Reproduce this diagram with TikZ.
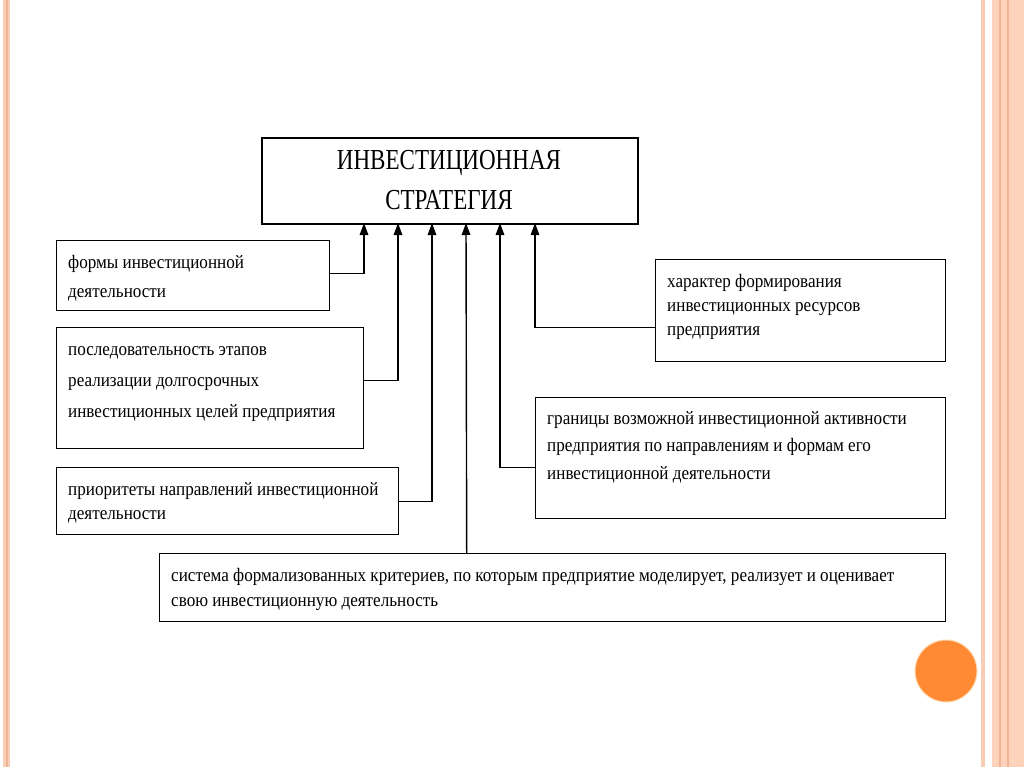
\documentclass[tikz,border=0pt]{standalone}
\usepackage{fontspec}
\setmainfont{Liberation Serif}[FakeStretch=0.9]
\newfontfamily\titlefont{Liberation Serif}[FakeStretch=0.795]
\usetikzlibrary{arrows.meta}
\definecolor{stripeA}{HTML}{F7CDB6}
\definecolor{stripeB}{HTML}{F0B394}
\definecolor{bandC}{HTML}{FDD2BA}
\definecolor{orangeC}{HTML}{FF8A33}
\tikzset{
  box/.style={draw=black, line width=1.4pt, inner sep=0pt, anchor=north west},
  txt/.style={inner sep=0pt, anchor=base west, align=left, font=\fontsize{19}{29}\selectfont},
  arr/.style={line width=1.4pt, -{Triangle[length=12pt,width=8.5pt]}}
}
\begin{document}
\begin{tikzpicture}[x=1pt,y=-1pt]
\fill[white] (0,0) rectangle (1024,767);
\useasboundingbox (0,0) rectangle (1024,767);
% decorative stripes
\fill[stripeA] (3,0) rectangle (10,767);
\fill[stripeB] (6,0) rectangle (7.5,767);
\fill[stripeA] (981,0) rectangle (985,767);
\fill[bandC] (992,0) rectangle (1024,767);
\fill[stripeB] (999,0) rectangle (1001,767);
\fill[stripeB] (1007,0) rectangle (1008.5,767);
% circle
\fill[orangeC, draw=orange!30, line width=1pt] (946,671) circle[radius=31pt];
% main box
\node[box, line width=1.6pt, minimum width=376pt, minimum height=86pt] (main) at (261,137) {};
\node[inner sep=0pt, anchor=base, font=\titlefont\fontsize{29}{40}\selectfont] (tt1) at (449,170) {ИНВЕСТИЦИОННАЯ};
\node[inner sep=0pt, anchor=base, font=\titlefont\fontsize{29}{40}\selectfont] (tt2) at (449,210) {СТРАТЕГИЯ};
% boxes
\node[box, minimum width=273pt, minimum height=70pt] (b1) at (56,240) {};
\node[box, minimum width=307pt, minimum height=121pt] (b2) at (56,327) {};
\node[box, minimum width=342pt, minimum height=67pt] (b3) at (56,467) {};
\node[box, minimum width=290pt, minimum height=102pt] (b4) at (655,259) {};
\node[box, minimum width=410pt, minimum height=121pt] (b5) at (535,397) {};
\node[box, minimum width=786pt, minimum height=68pt] (b6) at (159,553) {};
% texts (anchor = baseline of the last line)
\node[txt] (x1) at (68,297) {формы инвестиционной\\деятельности};
\node[txt, font=\fontsize{19}{31}\selectfont] (x2) at (68,417) {последовательность этапов\\реализации долгосрочных\\инвестиционных целей предприятия};
\node[txt, font=\fontsize{19}{24}\selectfont] (x3) at (68,519) {приоритеты направлений инвестиционной\\деятельности};
\node[txt, font=\fontsize{19}{24}\selectfont] (x4) at (667,335) {характер формирования\\инвестиционных ресурсов\\предприятия};
\node[txt, font=\fontsize{19}{27.5}\selectfont] (x5) at (547,479) {границы возможной инвестиционной активности\\предприятия по направлениям и формам его\\инвестиционной деятельности};
\node[txt, font=\fontsize{19}{25}\selectfont] (x6) at (171,606) {система формализованных критериев, по которым предприятие моделирует, реализует и оценивает\\свою инвестиционную деятельность};
% arrow targets
\coordinate (t1) at (364,223);
\coordinate (t2) at (398,223);
\coordinate (t3) at (432,223);
\coordinate (t4) at (466,223);
\coordinate (t5) at (500,223);
\coordinate (t6) at (535,223);
% connectors
\draw[arr] ([yshift=2pt]b1.east) -| (t1);
\draw[arr] ([yshift=7.5pt]b2.east) -| (t2);
\draw[arr] (b3.east) -| (t3);
\draw[arr] ([xshift=-86pt]b6.north) -- (t4);
\draw[arr] ([yshift=-9.5pt]b5.west) -| (t5);
\draw[arr] ([yshift=-17pt]b4.west) -| (t6);
\end{tikzpicture}
\end{document}
